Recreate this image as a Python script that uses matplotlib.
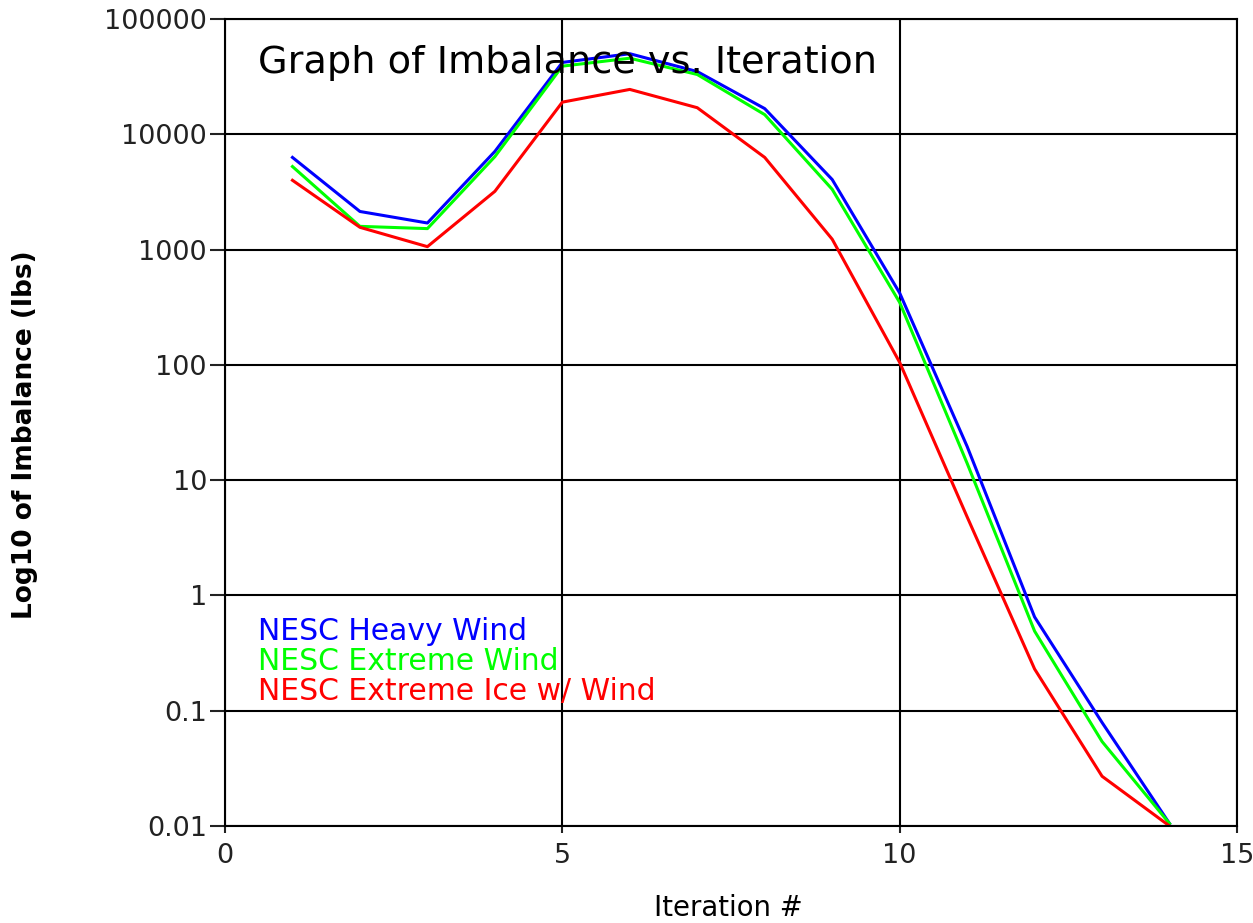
import matplotlib
matplotlib.use('Agg')
import matplotlib.pyplot as plt

# iterations and imbalance (lbs)
iterations = [1, 2, 3, 4, 5, 6, 7, 8, 9, 10, 11, 12, 13, 14]
heavy_wind = [6300, 2140, 1700, 7100, 42000, 50000, 35000, 16700, 4050, 420, 19.6, 0.65, 0.079, 0.0105]
extreme_wind = [5250, 1590, 1520, 6400, 39000, 45700, 33000, 14800, 3330, 348, 14, 0.49, 0.054, 0.0105]
extreme_ice = [3990, 1560, 1060, 3200, 19000, 24500, 17000, 6300, 1230, 105, 4.8, 0.23, 0.027, 0.01]

series_names = ['NESC Heavy Wind', 'NESC Extreme Wind', 'NESC Extreme Ice w/ Wind']
series_colors = ['#0000ff', '#00ff00', '#ff0000']

y_ticks = [0.01, 0.1, 1, 10, 100, 1000, 10000, 100000]
y_tick_labels = ['0.01', '0.1', '1', '10', '100', '1000', '10000', '100000']
x_ticks = [0, 5, 10, 15]

plt.rcParams['font.family'] = ['DejaVu Sans']

fig = plt.figure(figsize=(12.53, 9.23), dpi=100)
ax = fig.add_axes([225 / 1253, 1 - 826 / 923, (1237 - 225) / 1253, (826 - 19) / 923])

for values, color in zip([heavy_wind, extreme_wind, extreme_ice], series_colors):
    ax.plot(iterations, values, color=color, linewidth=2.2)

ax.set_yscale('log')
ax.set_xlim(0, 15)
ax.set_ylim(0.01, 100000)
ax.set_yticks(y_ticks)
ax.set_yticklabels(y_tick_labels)
ax.minorticks_off()
ax.set_xticks(x_ticks)
ax.grid(True, color='black', linewidth=1.5)

for side in ['top', 'right', 'left', 'bottom']:
    ax.spines[side].set_linewidth(1.5)
ax.tick_params(axis='y', length=11, width=1.5, labelsize=19.5, pad=2, colors='#222222')
ax.tick_params(axis='x', length=5, width=1.5, labelsize=19.5, pad=7, colors='#222222')

ax.text(0.033, 0.945, 'Graph of Imbalance vs. Iteration', transform=ax.transAxes,
        fontsize=27.5, ha='left', va='center')

# legend as coloured text, one line per series
for i, (name, color) in enumerate(zip(series_names, series_colors)):
    ax.text(0.033, 0.2415 - i * 0.0372, name, transform=ax.transAxes,
            fontsize=21.5, color=color, ha='left', va='center')

fig.text(25 / 1253, 1 - 435 / 923, 'Log10 of Imbalance (lbs)', rotation=90,
         fontsize=19, fontweight='bold', ha='center', va='center')
fig.text(728 / 1253, 1 - 908 / 923, 'Iteration #', fontsize=19.8, ha='center', va='center')

plt.savefig('out.png', dpi=100)
